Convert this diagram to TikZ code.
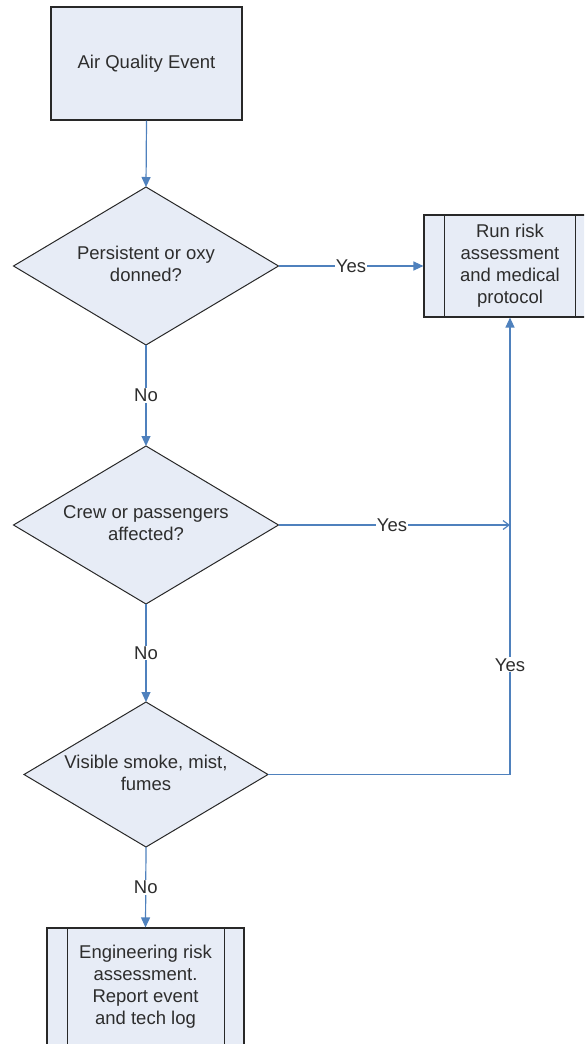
\documentclass[tikz,border=0pt]{standalone}
\usepackage{fontspec}
\setmainfont{Liberation Sans}
\usetikzlibrary{shapes.geometric,arrows.meta}
\definecolor{boxfill}{RGB}{231,236,246}
\definecolor{edgec}{RGB}{40,40,40}
\definecolor{arrc}{RGB}{79,129,189}
\definecolor{txtc}{RGB}{45,45,45}
\tikzset{
  every node/.style={font=\fontsize{18.5}{22}\selectfont, text=txtc},
  procbox/.style={draw=edgec, line width=1.1pt, fill=boxfill, rectangle, inner sep=0pt, align=center},
  decis/.style={draw=edgec, line width=1pt, fill=boxfill, diamond, inner sep=0pt, outer sep=0pt},
  dtext/.style={align=center, inner sep=0pt},
  flow/.style={draw=arrc, line width=1.2pt, -{Triangle[width=9pt,length=10pt]}},
  openflow/.style={draw=arrc, line width=1.2pt, -{Straight Barb[width=9pt,length=6pt]}},
  lbl/.style={fill=white, inner sep=1pt}
}
\begin{document}
\begin{tikzpicture}[x=1pt,y=-1pt]
\useasboundingbox (0,0) rectangle (584,1044);
\clip (0,0) rectangle (584,1044);
% start box
\node[procbox, minimum width=191pt, minimum height=113pt] (start) at (146.5,63.5) {Air Quality Event};
% decisions
\node[decis, minimum width=265pt, minimum height=158pt] (d1) at (146,266) {};
\node[dtext] (t1) at (146,264) {Persistent or oxy\\donned?};
\node[decis, minimum width=265pt, minimum height=158pt] (d2) at (146,525) {};
\node[dtext] (t2) at (146,523) {Crew or passengers\\affected?};
\node[decis, minimum width=244pt, minimum height=145pt] (d3) at (146,774.5) {};
\node[dtext] (t3) at (146,773) {Visible smoke, mist,\\fumes};
% right predefined process
\node[procbox, minimum width=172pt, minimum height=102pt] (rbox) at (510,266) {Run risk\\assessment\\and medical\\protocol};
\draw[edgec, line width=1.1pt] ([xshift=21pt]rbox.north west) -- ([xshift=21pt]rbox.south west);
\draw[edgec, line width=1.1pt] ([xshift=-21pt]rbox.north east) -- ([xshift=-21pt]rbox.south east);
% bottom predefined process
\node[procbox, minimum width=197pt, minimum height=118pt] (bbox) at (145.5,987) {Engineering risk\\assessment.\\Report event\\and tech log};
\draw[edgec, line width=1.1pt] ([xshift=21pt]bbox.north west) -- ([xshift=21pt]bbox.south west);
\draw[edgec, line width=1.1pt] ([xshift=-20pt]bbox.north east) -- ([xshift=-20pt]bbox.south east);
% connectors
\coordinate (j) at (510,525);
\draw[flow] (start.south) -- (d1.north);
\draw[flow] (d1.east) -- node[lbl] {Yes} (rbox.west);
\draw[flow] (d1.south) -- node[lbl] {No} (d2.north);
\draw[openflow] (d2.east) -- node[lbl, pos=0.49] {Yes} (j);
\draw[flow] (d2.south) -- node[lbl] {No} (d3.north);
\draw[flow] (d3.east) -| node[lbl, pos=0.62] {Yes} (rbox.south);
\draw[flow] (d3.south) -- node[lbl] {No} (bbox.north);
\end{tikzpicture}
\end{document}
